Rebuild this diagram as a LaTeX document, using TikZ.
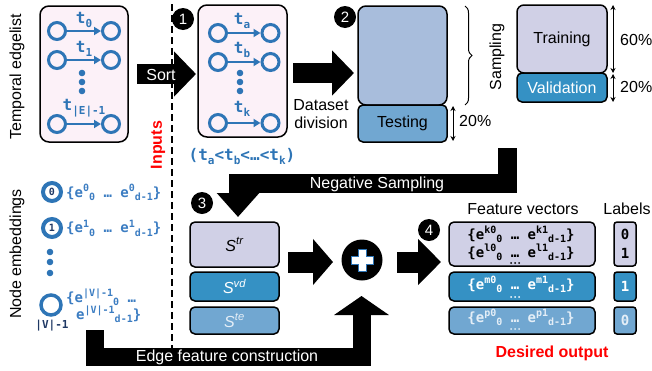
\documentclass[tikz,border=0pt]{standalone}
\usepackage{fontspec}
\setmainfont{Liberation Sans}
\newfontfamily\codefont{DejaVu Sans Mono}
\usetikzlibrary{arrows.meta,decorations.pathreplacing,calc}
\definecolor{edgeblue}{HTML}{2E75B6}
\definecolor{codeblue}{HTML}{3C7DC2}
\definecolor{pinkfill}{HTML}{FCF1F8}
\definecolor{poolfill}{HTML}{A8BDDC}
\definecolor{testfill}{HTML}{71A7D1}
\definecolor{trainfill}{HTML}{D0D0E6}
\definecolor{valfill}{HTML}{3591C4}
\definecolor{navy}{HTML}{1F3864}
\definecolor{paletxt}{HTML}{E4EEF7}
\newcommand{\ssup}[1]{\raisebox{0.42em}{\fontsize{10}{10}\selectfont #1}}
\newcommand{\ssub}[1]{\raisebox{-0.22em}{\fontsize{10}{10}\selectfont #1}}
\newcommand{\tsub}[1]{\raisebox{-0.25em}{\fontsize{11}{11}\selectfont #1}}
\tikzset{
  lbl/.style={font=\fontsize{16}{19}\selectfont, inner sep=0pt},
  code/.style={font=\codefont\bfseries\fontsize{14}{16}\selectfont, inner sep=0pt},
  tcode/.style={font=\codefont\bfseries\fontsize{16}{18}\selectfont, text=edgeblue, inner sep=0pt},
  panel/.style={draw=black, line width=1.5pt, rounded corners=9pt, fill=pinkfill},
  setbox/.style={draw=black, line width=1.5pt, rounded corners=5pt, inner sep=0pt},
  vtx/.style={circle, draw=edgeblue, line width=3pt, minimum size=17pt, inner sep=0pt},
  nvtx/.style={circle, draw=edgeblue, line width=4pt, minimum size=18pt, inner sep=0pt,
     font=\codefont\bfseries\fontsize{10}{10}\selectfont, text=navy},
  edgearrow/.style={edgeblue, line width=2pt, -{Triangle[width=8pt,length=7pt]}},
  numdot/.style={circle, fill=black, text=white, minimum size=22pt, inner sep=0pt,
     font=\fontsize{15}{15}\selectfont},
  pct/.style={line width=1pt, {Stealth[length=5pt,width=5pt]}-{Stealth[length=5pt,width=5pt]}},
  bigarrow/.style={line width=20pt, line join=miter, -{Triangle[width=44pt,length=22pt]}},
}
\begin{document}
\begin{tikzpicture}[x=1pt,y=-1pt]
\useasboundingbox (0,0) rectangle (652,370);

% dashed separator (drawn first, behind the arrows)
\coordinate (dashT) at (172,4);
\coordinate (dashB) at (172,350);
\draw[line width=1.3pt, dash pattern=on 7pt off 4pt] (dashT) -- (dashB);
\node[lbl, rotate=90, text=red, font=\bfseries\fontsize{16}{19}\selectfont] (inputs) at (158,145) {Inputs};

% ---------- temporal edgelist ----------
\node[lbl, rotate=90] (tel) at (17,77) {Temporal edgelist};
\node[panel, minimum width=88pt, minimum height=136pt] (box1) at (84,74) {};
\node[vtx] (a1) at (57,31) {}; \node[vtx] (b1) at (111,31) {};
\node[vtx] (a2) at (57,60) {}; \node[vtx] (b2) at (111,60) {};
\node[vtx] (a3) at (57,124) {}; \node[vtx] (b3) at (111,124) {};
\draw[edgearrow] (a1) -- (b1);
\draw[edgearrow] (a2) -- (b2);
\draw[edgearrow] (a3) -- (b3);
\node[tcode] (t0) at (84,20) {t\tsub{0}};
\node[tcode] (t1) at (84,49) {t\tsub{1}};
\node[tcode] (tE) at (84,108) {t\tsub{|E|-1}};
\fill[edgeblue] (82,73) circle (3.3pt) (82,82) circle (3.3pt) (82,91) circle (3.3pt);

% sort arrow
\coordinate (sortA) at (137,74);
\coordinate (sortB) at (196,74);
\draw[bigarrow] (sortA) -- (sortB);
\node[lbl, text=white] (sort) at (161,75) {Sort};

% ---------- sorted edgelist ----------
\node[numdot] (n1) at (183,19) {1};
\node[panel, minimum width=89pt, minimum height=132pt] (box2) at (242.5,71) {};
\node[vtx] (c1) at (218,33) {}; \node[vtx] (d1) at (270.5,33) {};
\node[vtx] (c2) at (218,62) {}; \node[vtx] (d2) at (270.5,62) {};
\node[vtx] (c3) at (218,123) {}; \node[vtx] (d3) at (270.5,123) {};
\draw[edgearrow] (c1) -- (d1);
\draw[edgearrow] (c2) -- (d2);
\draw[edgearrow] (c3) -- (d3);
\node[tcode] (ta) at (242,21) {t\tsub{a}};
\node[tcode] (tb) at (242,50) {t\tsub{b}};
\node[tcode] (tk) at (242,109) {t\tsub{k}};
\fill[edgeblue] (240,73) circle (3.3pt) (240,82) circle (3.3pt) (240,91) circle (3.3pt);
\node[tcode] (order) at (242,157) {(t\tsub{a}<t\tsub{b}<…<t\tsub{k})};

% dataset division arrow
\coordinate (ddA) at (293,73);
\coordinate (ddB) at (354,73);
\draw[bigarrow] (ddA) -- (ddB);
\node[lbl, align=center] (ddtxt) at (321,114) {Dataset\\[-1pt]division};

% ---------- split ----------
\node[numdot] (n2) at (345,17) {2};
\node[setbox, fill=poolfill, rounded corners=8pt, minimum width=89pt, minimum height=99pt] (pool) at (402.5,55.5) {};
\node[setbox, fill=testfill, minimum width=89pt, minimum height=37pt] (test) at (402.5,123.5) {};
\node[lbl] at (test) {Testing};
\coordinate (p20a) at (453,106);
\coordinate (p20b) at (453,141);
\draw[pct] (p20a) -- (p20b);
\node[lbl, anchor=west] (p20) at (459,121) {20\%};
\coordinate (brT) at (465,6);
\coordinate (brB) at (465,105);
\draw[decorate, decoration={brace, amplitude=7pt}, line width=1pt] (brT) -- (brB);
\node[lbl, rotate=90] (sampling) at (497,57) {Sampling};

\node[setbox, fill=trainfill, rounded corners=7pt, minimum width=90pt, minimum height=68pt] (train) at (562,39) {};
\node[lbl] at (train) {Training};
\node[setbox, fill=valfill, minimum width=90pt, minimum height=29pt] (val) at (562,87.5) {};
\node[lbl, text=white] at (val) {Validation};
\coordinate (q1) at (613,5);
\coordinate (q2) at (613,73);
\coordinate (q3) at (613,74);
\coordinate (q4) at (613,102);
\draw[pct] (q1) -- (q2);
\draw[pct] (q3) -- (q4);
\node[lbl, anchor=west] (p60) at (620,40) {60\%};
\node[lbl, anchor=west] (p20v) at (620,87) {20\%};

% ---------- negative sampling ----------
\coordinate (nsA) at (507.5,148);
\coordinate (nsM) at (238,183.5);
\coordinate (nsB) at (238,217);
\draw[line width=19pt, line join=miter, -{Triangle[width=41pt,length=24pt]}] (nsA) |- (nsM) -- (nsB);
\node[lbl, text=white] (negs) at (377,184) {Negative Sampling};

% ---------- node embeddings ----------
\node[lbl, rotate=90] (nemb) at (17,254) {Node embeddings};
\node[nvtx] (v0) at (52,192) {0};
\node[code, text=codeblue, anchor=west] (e0) at (66,192) {\{e\ssup{0}\ssub{0} … e\ssup{0}\ssub{d-1}\}};
\node[nvtx] (v1) at (52,228) {1};
\node[code, text=codeblue, anchor=west] (e1) at (66,228) {\{e\ssup{1}\ssub{0} … e\ssup{1}\ssub{d-1}\}};
\fill[edgeblue] (50,252) circle (3.3pt) (50,262) circle (3.3pt) (50,273) circle (3.3pt);
\node[circle, draw=edgeblue, line width=3.5pt, minimum size=20pt, inner sep=0pt] (vV) at (51,305) {};
\node[font=\codefont\bfseries\fontsize{11}{11}\selectfont, text=navy, inner sep=0pt] (vVl) at (52,326) {|V|-1};
\node[code, text=codeblue, anchor=west] (eV1) at (66,297) {\{e\ssup{|V|-1}\ssub{0} …};
\node[code, text=codeblue, anchor=west] (eV2) at (76,314) {e\ssup{|V|-1}\ssub{d-1}\}};

% ---------- edge feature construction ----------
\coordinate (efA) at (95,330);
\coordinate (efM) at (361.5,356.5);
\coordinate (efB) at (361.5,296);
\draw[line width=18pt, line join=miter, -{Triangle[width=54pt,length=19pt]}] (efA) |- (efM) -- (efB);
\node[lbl, text=white] (eftxt) at (227,357) {Edge feature construction};

% ---------- samples ----------
\node[numdot] (n3) at (202,203) {3};
\node[setbox, fill=trainfill, minimum width=89pt, minimum height=45pt] (str) at (234.5,244.5) {};
\node[lbl, font=\itshape\fontsize{16}{19}\selectfont] at (str) {S\textsuperscript{tr}};
\node[setbox, fill=valfill, minimum width=89pt, minimum height=29pt] (svd) at (234.5,286.5) {};
\node[lbl, text=white, font=\itshape\fontsize{16}{19}\selectfont] at (svd) {S\textsuperscript{vd}};
\node[setbox, fill=testfill, minimum width=89pt, minimum height=27pt] (ste) at (234.5,320.5) {};
\node[lbl, text=paletxt, font=\itshape\fontsize{16}{19}\selectfont] at (ste) {S\textsuperscript{te}};

\coordinate (inA) at (288,262);
\coordinate (inB) at (333,262);
\draw[line width=21pt, -{Triangle[width=45pt,length=20pt]}] (inA) -- (inB);

\node[circle, fill=black, minimum size=41pt, inner sep=0pt] (plus) at (362,260) {};
\begin{scope}[shift={(plus)}]
\draw[fill=white, draw=edgeblue, line width=0.8pt]
  (-4,-11) -- (4,-11) -- (4,-4) -- (11,-4) -- (11,4) -- (4,4) -- (4,11) -- (-4,11) -- (-4,4) -- (-11,4) -- (-11,-4) -- (-4,-4) -- cycle;
\end{scope}

\coordinate (outA) at (397,262);
\coordinate (outB) at (441,262);
\draw[line width=21pt, -{Triangle[width=45pt,length=23pt]}] (outA) -- (outB);

% ---------- feature vectors ----------
\node[numdot] (n4) at (429,230) {4};
\node[lbl] (fvt) at (523,209) {Feature vectors};
\node[lbl] (labt) at (627,209) {Labels};
\node[setbox, fill=trainfill, minimum width=146pt, minimum height=44pt] (f1) at (522,244) {};
\node[setbox, fill=valfill, minimum width=146pt, minimum height=29pt] (f2) at (522,286.5) {};
\node[setbox, fill=testfill, minimum width=146pt, minimum height=27pt] (f3) at (522,320.5) {};
\node[code] (fk) at (521,234) {\{e\ssup{k0}\ssub{0} … e\ssup{k1}\ssub{d-1}\}};
\node[code] (fl) at (521,252) {\{e\ssup{l0}\ssub{0} … e\ssup{l1}\ssub{d-1}\}};
\fill[black] (511,263) circle (1pt) (515,263) circle (1pt) (519,263) circle (1pt);
\node[code, text=white] (fm) at (521,284) {\{e\ssup{m0}\ssub{0} … e\ssup{m1}\ssub{d-1}\}};
\fill[white] (511,297) circle (1pt) (515,297) circle (1pt) (519,297) circle (1pt);
\node[code, text=paletxt] (fp) at (521,317) {\{e\ssup{p0}\ssub{0} … e\ssup{p1}\ssub{d-1}\}};
\fill[paletxt] (511,329) circle (1pt) (515,329) circle (1pt) (519,329) circle (1pt);

\node[setbox, fill=trainfill, rounded corners=3pt, minimum width=22pt, minimum height=44pt] (l1) at (625,244) {};
\node[setbox, fill=valfill, rounded corners=3pt, minimum width=22pt, minimum height=29pt] (l2) at (625,286.5) {};
\node[setbox, fill=testfill, rounded corners=3pt, minimum width=22pt, minimum height=27pt] (l3) at (625,320.5) {};
\node[code] at (625,234) {0};
\node[code] at (625,253) {1};
\node[code, text=white] at (625,286.5) {1};
\node[code, text=paletxt] at (625,320.5) {0};

\node[lbl, text=red, font=\bfseries\fontsize{16}{19}\selectfont] (desired) at (552,353) {Desired output};
\end{tikzpicture}
\end{document}
